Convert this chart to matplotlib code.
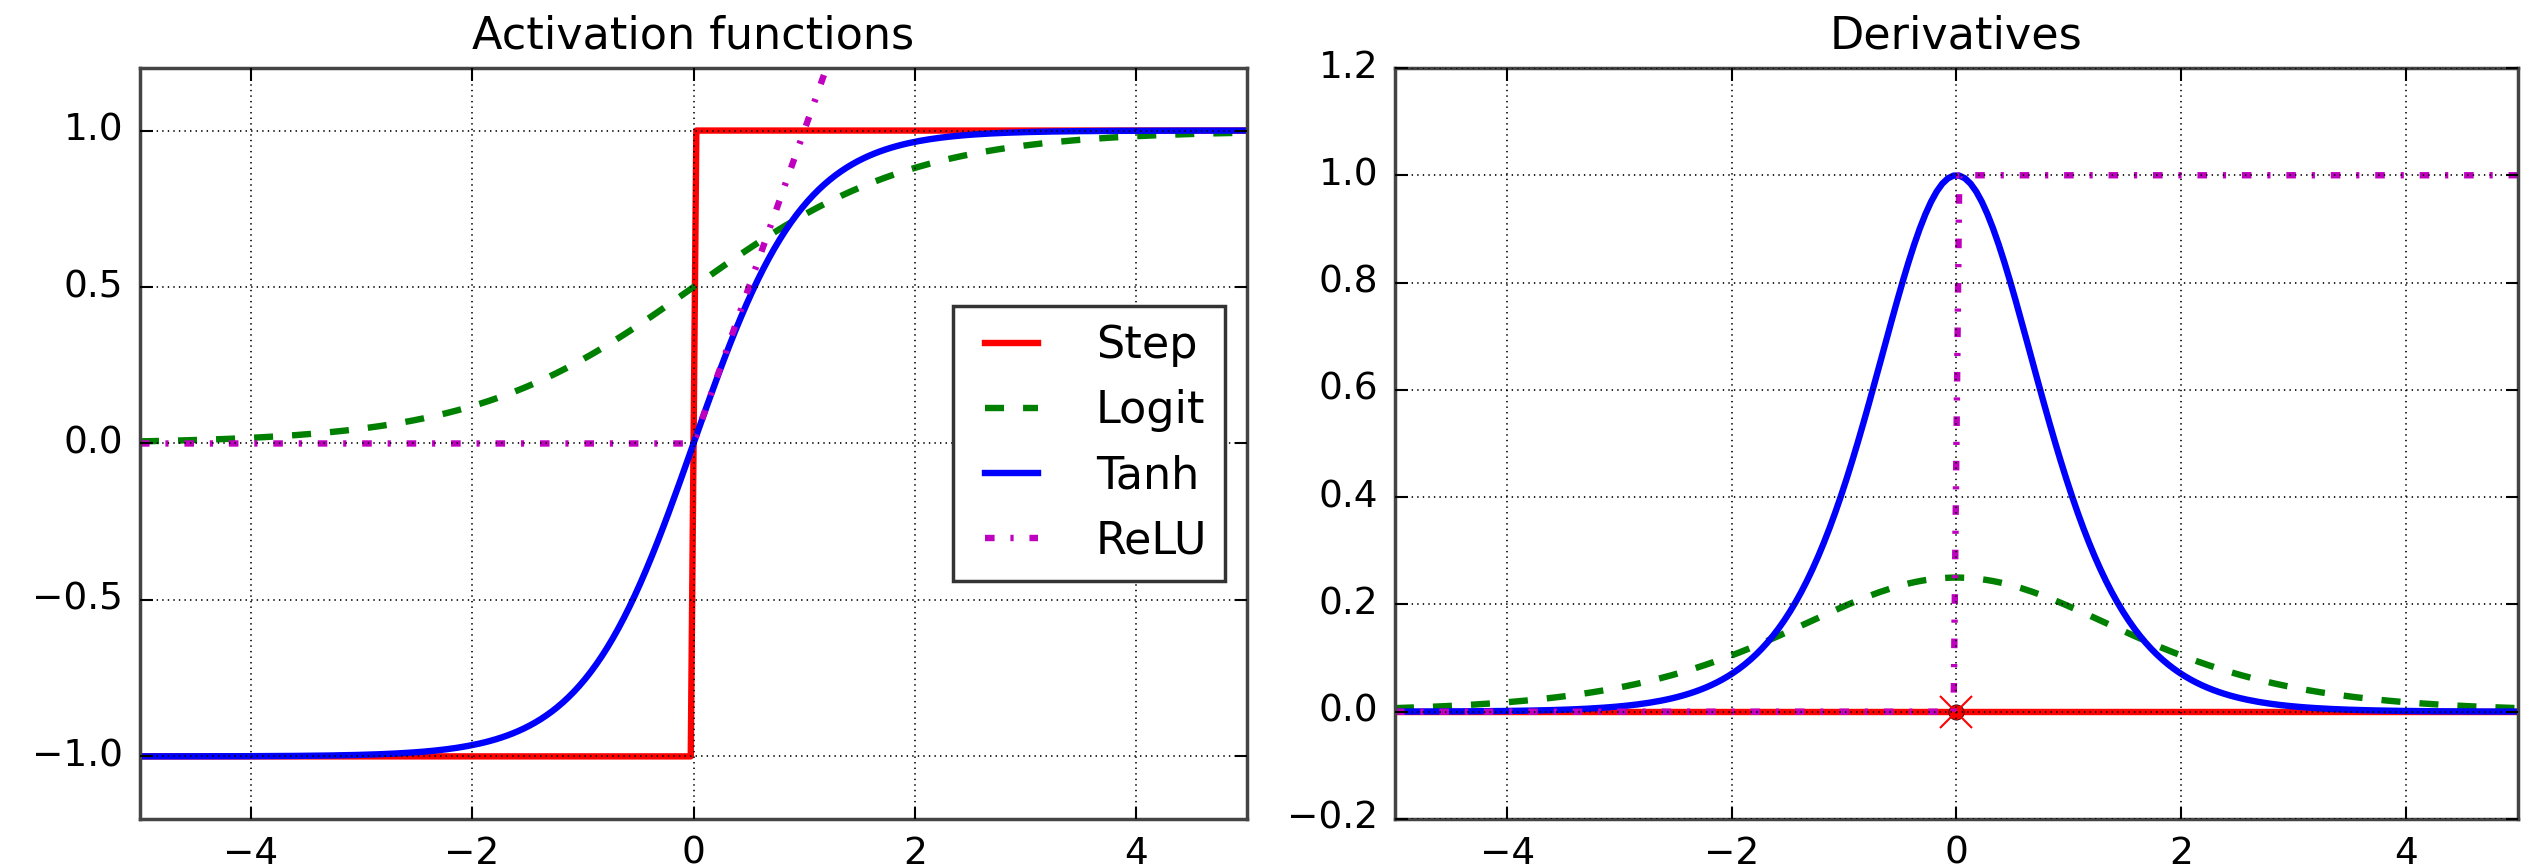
import numpy as np
import matplotlib
matplotlib.use("Agg")
import matplotlib.pyplot as plt

# data: the four activation functions on [-5, 5]
z_min, z_max, n_points = -5, 5, 200
labels = ["Step", "Logit", "Tanh", "ReLU"]
colors = ["r", "g", "b", "m"]
left_limits = [-5, 5, -1.2, 1.2]
right_limits = [-5, 5, -0.2, 1.2]
left_yticks = [-1.0, -0.5, 0.0, 0.5, 1.0]
right_yticks = [-0.2, 0.0, 0.2, 0.4, 0.6, 0.8, 1.0, 1.2]
xticks = [-4, -2, 0, 2, 4]


def logit(z):
    return 1 / (1 + np.exp(-z))


def relu(z):
    return np.maximum(0, z)


def derivative(f, z, eps=0.000001):
    return (f(z + eps) - f(z - eps)) / (2 * eps)


funcs = [np.sign, logit, np.tanh, relu]
z = np.linspace(z_min, z_max, n_points)

plt.style.use("classic")
plt.rcParams["font.family"] = ["DejaVu Sans"]
plt.rcParams["axes.linewidth"] = 2.5
plt.rcParams["axes.edgecolor"] = "#444444"
plt.rcParams["xtick.major.size"] = 9
plt.rcParams["ytick.major.size"] = 9
plt.rcParams["xtick.major.width"] = 1.5
plt.rcParams["ytick.major.width"] = 1.5
plt.rcParams["xtick.major.pad"] = 12
plt.rcParams["ytick.major.pad"] = 12
plt.rcParams["axes.unicode_minus"] = True
plt.rcParams["lines.scale_dashes"] = False

lw = 4.6
# line patterns (in points)
dash_styles = [None, (13.7, 13.7), None, (6.9, 11.4, 2.3, 11.4)]


def draw(ax, x, y, color, dashes, label):
    if dashes is None:
        ax.plot(x, y, color=color, linestyle="-", linewidth=lw, label=label)
    else:
        ax.plot(x, y, color=color, linestyle="--", dashes=dashes,
                linewidth=lw, label=label)


fig = plt.figure(figsize=(25.22, 8.67), dpi=100, facecolor="white")
ax1 = fig.add_axes([0.0555, 0.0554, 0.439, 0.8662])
ax2 = fig.add_axes([0.5531, 0.0554, 0.4453, 0.8662])

for f, lab, c, d in zip(funcs, labels, colors, dash_styles):
    draw(ax1, z, f(z), c, d, lab)
ax1.grid(True, color="k", linestyle=":", linewidth=1.2)
leg = ax1.legend(loc="center right", fontsize=32, fancybox=False,
                 borderaxespad=0.5, handlelength=1.8, handletextpad=1.0)
leg.get_frame().set_linewidth(2.5)
leg.get_frame().set_edgecolor("#333333")
ax1.set_title("Activation functions", fontsize=32, pad=14)
ax1.axis(left_limits)
ax1.set_yticks(left_yticks)

draw(ax2, z, derivative(np.sign, z), "r", None, "Step")
ax2.plot(0, 0, "ro", markersize=11)
ax2.plot(0, 0, "rx", markersize=23, markeredgewidth=1.5)
for f, lab, c, d in zip(funcs[1:], labels[1:], colors[1:], dash_styles[1:]):
    draw(ax2, z, derivative(f, z), c, d, lab)
ax2.grid(True, color="k", linestyle=":", linewidth=1.2)
ax2.set_title("Derivatives", fontsize=32, pad=14)
ax2.axis(right_limits)
ax2.set_yticks(right_yticks)

for ax in (ax1, ax2):
    ax.set_xticks(xticks)
    ax.tick_params(labelsize=27, direction="in", top=True, right=True)

fig.savefig("out.png", dpi=100, facecolor="white")
